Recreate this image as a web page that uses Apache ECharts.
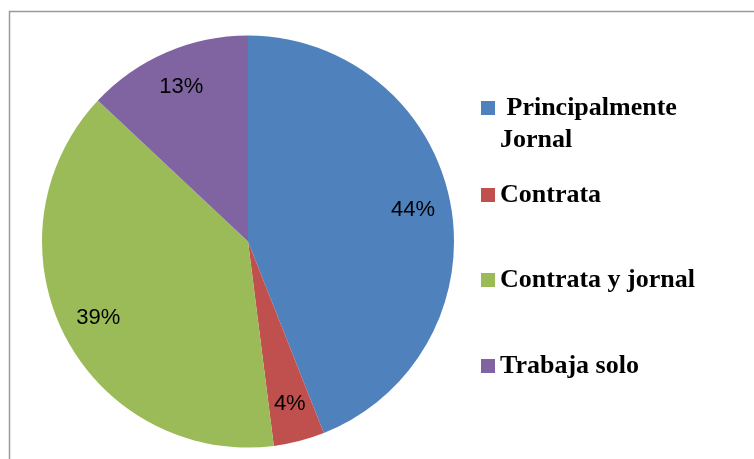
<!DOCTYPE html>
<html>
<head>
<meta charset="utf-8">
<script src="https://cdn.jsdelivr.net/npm/echarts@6/dist/echarts.min.js"></script>
<style>
  html, body { margin: 0; padding: 0; background: #fff; }
  #main { width: 754px; height: 459px; }
</style>
</head>
<body>
<div id="main"></div>
<script>
// datos del gráfico
var categorias = ["Principalmente Jornal", "Contrata", "Contrata y jornal", "Trabaja solo"];
var valores = [44, 4, 39, 13];
var colores = ["#4F81BD", "#C0504D", "#9BBB59", "#8064A2"];
var leyendaTop = [60, 179, 264, 350];

var datos = categorias.map(function (c, i) {
  return { name: c, value: valores[i], itemStyle: { color: colores[i] } };
});

// una leyenda por elemento para fijar el espaciado
var leyendas = categorias.map(function (c, i) {
  return {
    data: [c],
    orient: "vertical",
    left: 481,
    top: leyendaTop[i],
    padding: 0,
    itemWidth: 14,
    itemHeight: 14,
    itemGap: 5,
    icon: "rect",
    selectedMode: false,
    formatter: function (name) {
      return name === "Principalmente Jornal" ? "\n Principalmente\nJornal" : name;
    },
    textStyle: {
      fontFamily: "Liberation Serif, Times New Roman, serif",
      fontWeight: "bold",
      fontSize: 26,
      lineHeight: 32,
      color: "#000"
    }
  };
});

var myChart = echarts.init(document.getElementById("main"));
myChart.setOption({
  animation: false,
  legend: leyendas,
  graphic: [
    {
      type: "rect",
      shape: { x: 9.5, y: 11.5, width: 800, height: 500 },
      style: { fill: "none", stroke: "#9a9a9a", lineWidth: 1.5 },
      silent: true
    }
  ],
  series: [
    {
      name: "principal",
      type: "pie",
      center: [248, 241.5],
      radius: [0, 206],
      startAngle: 90,
      clockwise: true,
      label: { show: false },
      labelLine: { show: false },
      emphasis: { disabled: true },
      data: datos
    },
    {
      // serie transparente solo para colocar las etiquetas
      name: "etiquetas",
      type: "pie",
      center: [248, 241.5],
      radius: [124, 206],
      startAngle: 90,
      clockwise: true,
      silent: true,
      itemStyle: { color: "transparent" },
      label: {
        show: true,
        position: "inside",
        formatter: "{c}%",
        fontFamily: "Liberation Sans, Arial, sans-serif",
        fontSize: 22,
        color: "#000"
      },
      labelLine: { show: false },
      emphasis: { disabled: true },
      data: categorias.map(function (c, i) {
        return { name: c, value: valores[i] };
      })
    }
  ]
});
</script>
</body>
</html>
